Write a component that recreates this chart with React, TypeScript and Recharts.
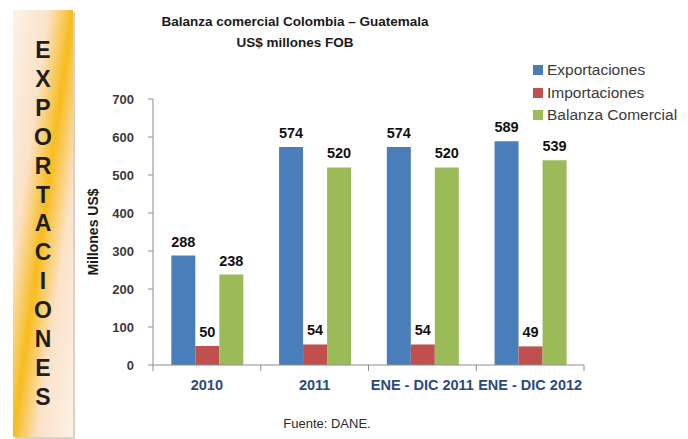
import React from 'react';
import { BarChart, Bar, XAxis, YAxis, Legend, LabelList } from 'recharts';

const categories = ['2010', '2011', 'ENE - DIC 2011', 'ENE - DIC 2012'];
const exportaciones = [288, 574, 574, 589];
const importaciones = [50, 54, 54, 49];
const balanza = [238, 520, 520, 539];
const yTicks = [0, 100, 200, 300, 400, 500, 600, 700];
const seriesNames = ['Exportaciones', 'Importaciones', 'Balanza Comercial'];
const seriesKeys = ['exp', 'imp', 'bal'];
const seriesColors = ['#4A7EBB', '#C0504D', '#9BBB59'];
const titleLines = ['Balanza comercial Colombia \u2013 Guatemala', 'US$ millones FOB'];
const bannerText = 'EXPORTACIONES';
const yLabel = 'Millones US$';
const sourceText = 'Fuente: DANE.';

const data = categories.map((c, i) => ({
  name: c,
  exp: exportaciones[i],
  imp: importaciones[i],
  bal: balanza[i],
}));

const FONT = '"Liberation Sans", Arial, sans-serif';

const XTick = (props: any) => {
  const { x, y, payload, index, visibleTicksCount, width } = props;
  const half = payload && payload.offset ? payload.offset : width / (visibleTicksCount || 4) / 2;
  const last = index === (visibleTicksCount || 4) - 1;
  return (
    <g>
      <line x1={x - half} y1={y} x2={x - half} y2={y + 6} stroke="#8c8c8c" />
      {last && <line x1={x + half} y1={y} x2={x + half} y2={y + 6} stroke="#8c8c8c" />}
      <text x={x} y={y + 20} textAnchor="middle" dominantBaseline="central" fill="#2B4A7E"
        fontFamily={FONT} fontWeight="bold" fontSize={14.5}>{payload.value}</text>
    </g>
  );
};

const YLabel = (props: any) => {
  const vb = props.viewBox || { y: 99, height: 266 };
  const cy = vb.y + vb.height / 2;
  return (
    <text x={93} y={cy} transform={`rotate(-90, 93, ${cy})`} textAnchor="middle" dominantBaseline="central"
      fill="#1a1a1a" fontFamily={FONT} fontWeight="bold" fontSize={14}>{yLabel}</text>
  );
};

const LegendContent = () => (
  <div style={{ fontFamily: FONT, fontSize: 15.5, color: '#3a3a3a' }}>
    {seriesNames.map((n, i) => (
      <div key={n} style={{ display: 'flex', alignItems: 'center', height: 22.5, whiteSpace: 'nowrap' }}>
        <span style={{ display: 'inline-block', width: 10, height: 10, background: seriesColors[i], marginRight: 4 }} />
        <span>{n}</span>
      </div>
    ))}
  </div>
);

export default function App() {
  return (
    <div style={{ position: 'absolute', left: 0, top: 0, width: 688, height: 439, background: '#fff', overflow: 'hidden' }}>
      <svg width={688} height={439} style={{ position: 'absolute', left: 0, top: 0, pointerEvents: 'none' }}>
        <defs>
          <linearGradient id="bannerGrad" x1="0" y1="0" x2="1" y2="1">
            <stop offset="0" stopColor="#fdf1e7" />
            <stop offset="0.3" stopColor="#fbe2c8" />
            <stop offset="0.5" stopColor="#f7bc1e" />
            <stop offset="0.7" stopColor="#fbe2c8" />
            <stop offset="1" stopColor="#fdf1e7" />
          </linearGradient>
        </defs>
        <rect x={15} y={12} width={60} height={427} fill="#d9d2cb" />
        <rect x={13} y={10} width={60} height={427} fill="url(#bannerGrad)" />
        {bannerText.split('').map((ch, i) => (
          <text key={i} x={43} y={50 + i * 28.9} textAnchor="middle" dominantBaseline="central"
            fontFamily={FONT} fontWeight="bold" fontSize={23} fill="#1e1e1e">{ch}</text>
        ))}
        {titleLines.map((t, i) => (
          <text key={t} x={295} y={21 + i * 21} textAnchor="middle" dominantBaseline="central"
            fontFamily={FONT} fontWeight="bold" fontSize={13.5} fill="#1a1a1a">{t}</text>
        ))}
        <text x={327} y={423} textAnchor="middle" dominantBaseline="central" fontFamily={FONT}
          fontSize={13} fill="#2a2a2a">{sourceText}</text>
      </svg>
      <BarChart width={688} height={439} data={data}
        margin={{ top: 99, right: 104, bottom: 44, left: 0 }}
        barCategoryGap="17%" barGap={0}>
        <XAxis dataKey="name" height={30} tickSize={0} tickMargin={0} tickLine={false}
          axisLine={{ stroke: '#8c8c8c' }} tick={<XTick />} interval={0} />
        <YAxis width={153} domain={[0, 700]} ticks={yTicks} interval={0} tickSize={5} tickMargin={14}
          axisLine={{ stroke: '#8c8c8c' }} tickLine={{ stroke: '#8c8c8c' }}
          tick={{ fill: '#3a3a3a', fontFamily: FONT, fontSize: 13, fontWeight: 'bold' }}
          label={<YLabel />} />
        <Legend layout="vertical" align="center" verticalAlign="middle" content={<LegendContent />}
          wrapperStyle={{ left: 533, top: 59, width: 160, height: 70 }} />
        {seriesKeys.map((k, i) => (
          <Bar key={k} dataKey={k} name={seriesNames[i]} fill={seriesColors[i]} isAnimationActive={false}>
            <LabelList dataKey={k} position="top" offset={9} fill="#111"
              style={{ fontFamily: FONT, fontWeight: 'bold', fontSize: 14.5 }} />
          </Bar>
        ))}
      </BarChart>
    </div>
  );
}
